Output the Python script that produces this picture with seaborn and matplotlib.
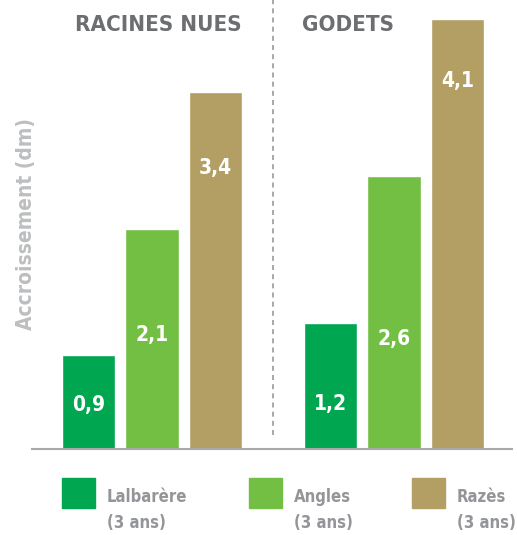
import pandas as pd
import matplotlib
matplotlib.use('Agg')
import matplotlib.pyplot as plt
import seaborn as sns

groups = ['RACINES NUES', 'GODETS']
varieties = ['Lalbarère', 'Angles', 'Razès']
legend_labels = ['Lalbarère\n(3 ans)', 'Angles\n(3 ans)', 'Razès\n(3 ans)']
racines_nues = [0.9, 2.1, 3.4]
godets = [1.2, 2.6, 4.1]
# where each value label sits (data units)
label_heights = [[0.42, 1.09, 2.68], [0.43, 1.05, 3.51]]

colors = ['#00A650', '#72BF44', '#B39E63']

sns.set_style("white")
plt.rcParams['font.family'] = ['DejaVu Sans']
plt.rcParams['font.stretch'] = 'condensed'
plt.rcParams['font.weight'] = 'bold'

df = pd.DataFrame({
    'group': [g for g in groups for _ in varieties],
    'variety': varieties * 2,
    'value': racines_nues + godets,
})

W, H = 517, 535
fig = plt.figure(figsize=(W / 100, H / 100), dpi=100)
ax = fig.add_axes([32 / W, 86 / H, 480 / W, 449 / H])

sns.barplot(data=df, x='group', y='value', hue='variety', order=groups,
            hue_order=varieties, palette=colors, width=0.79, gap=0.165,
            saturation=1, legend=False, ax=ax)

ax.set_xlim(-0.496, 1.488)
ax.set_ylim(0, 4.28)

# value labels
for i, cont in enumerate(ax.containers):
    for j, bar in enumerate(cont):
        val = bar.get_height()
        ax.text(bar.get_x() + bar.get_width() / 2, label_heights[j][i],
                f'{val:.1f}'.replace('.', ','), color='white', fontsize=15,
                fontweight='bold', ha='center', va='center')

# divider
ax.plot([0.5, 0.5], [0.13, 4.28], color='#9A9A9A', lw=1.2,
        ls=(0, (3, 2.5)), clip_on=False)

# group headers
ax.text(0.37, 4.04, groups[0], ha='right', va='center', fontsize=16,
        fontweight='bold', color='#6D6E71')
ax.text(0.62, 4.04, groups[1], ha='left', va='center', fontsize=16,
        fontweight='bold', color='#6D6E71')

sns.despine(ax=ax, left=True, top=True, right=True)
ax.spines['bottom'].set_color('#A7A9AC')
ax.spines['bottom'].set_linewidth(1.5)
ax.set_xticks([])
ax.set_yticks([])
ax.set_xlabel('')
ax.set_ylabel('Accroissement (dm)', fontsize=15, fontweight='bold',
              color='#BCBEC0', labelpad=-3)

# legend: coloured square + two-line label
legend_x = [62, 249, 412]
for x0, c, lab in zip(legend_x, colors, legend_labels):
    fig.add_artist(plt.Rectangle((x0 / W, 1 - 508 / H), 33 / W, 30 / H,
                                 color=c, transform=fig.transFigure))
    fig.text((x0 + 45) / W, 1 - 510 / H, lab, ha='left', va='center',
             fontsize=12, fontweight='bold', color='#939598',
             linespacing=1.55)

fig.savefig('out.png', dpi=100)
